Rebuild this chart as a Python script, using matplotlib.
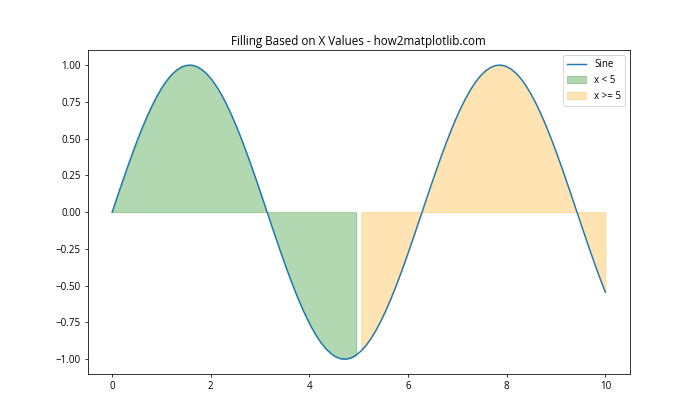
import numpy as np
import matplotlib
matplotlib.use("Agg")
import matplotlib.pyplot as plt

plt.rcParams['font.family'] = ['Open Sans', 'DejaVu Sans']

# Data: sine curve sampled at 100 points on [0, 10]
x = np.linspace(0, 10, 100)
y = np.sin(x)
split_x = 5

fig, ax = plt.subplots(figsize=(10, 6), dpi=70)
ax.plot(x, y, label='Sine')
ax.fill_between(x, y, where=(x < split_x), color='green', alpha=0.3, label='x < 5')
ax.fill_between(x, y, where=(x >= split_x), color='orange', alpha=0.3, label='x >= 5')
ax.set_title('Filling Based on X Values - how2matplotlib.com')
ax.legend()
fig.savefig('out.png')
